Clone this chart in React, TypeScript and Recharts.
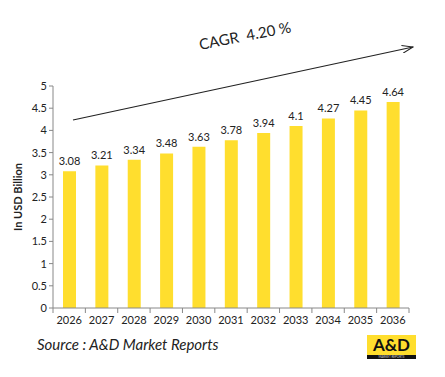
import { Bar, BarChart, Customized, LabelList, XAxis, YAxis } from "recharts";

const years = ["2026", "2027", "2028", "2029", "2030", "2031", "2032", "2033", "2034", "2035", "2036"];
const marketSize = [3.08, 3.21, 3.34, 3.48, 3.63, 3.78, 3.94, 4.1, 4.27, 4.45, 4.64];
const yTicks = [0, 0.5, 1, 1.5, 2, 2.5, 3, 3.5, 4, 4.5, 5];

const FONT = "Lato, 'Open Sans', sans-serif";
const YELLOW = "#FFDE2E";
const BAND = 356 / years.length;

const data = years.map((year, i) => ({ year, value: marketSize[i] }));

function YearTick(props: any) {
  const { x, y, payload, index } = props;
  const left = x - BAND / 2;
  return (
    <g>
      <line x1={left} y1={y - 8} x2={left} y2={y - 3} stroke="#888" />
      {index === years.length - 1 && (
        <line x1={x + BAND / 2} y1={y - 8} x2={x + BAND / 2} y2={y - 3} stroke="#888" />
      )}
      <text x={x} y={y + 8} textAnchor="middle" fontSize={11} fill="#222" fontFamily={FONT}>
        {payload.value}
      </text>
    </g>
  );
}

// CAGR arrow drawn over the plot like the original slide
function CagrArrow() {
  return (
    <g>
      <defs>
        <marker id="arrowhead" markerWidth="12" markerHeight="8" refX="11" refY="4" orient="auto" markerUnits="userSpaceOnUse">
          <path d="M0,0 L11,4 L0,8" fill="none" stroke="#222" strokeWidth={1} />
        </marker>
      </defs>
      <line x1={73} y1={120} x2={413} y2={47} stroke="#222" strokeWidth={1.2} markerEnd="url(#arrowhead)" />
      <text
        x={246}
        y={41}
        textAnchor="middle"
        fontSize={15}
        fill="#222"
        fontFamily={FONT}
        transform="rotate(-11 246 41)"
      >
        {"CAGR\u00a0\u00a04.20 %"}
      </text>
    </g>
  );
}

export default function App() {
  return (
    <div style={{ position: "absolute", left: 0, top: 0, width: 445, height: 377, background: "white" }}>
      <BarChart
        width={445}
        height={377}
        data={data}
        margin={{ top: 86, right: 36, bottom: 39, left: 0 }}
        barCategoryGap="30%"
      >
        <YAxis
          width={53}
          domain={[0, 5]}
          ticks={yTicks}
          interval={0}
          tickSize={4}
          stroke="#888"
          tick={{ fontSize: 11, fill: "#222", fontFamily: FONT }}
          label={{
            value: "In USD Billion",
            angle: -90,
            position: "insideLeft",
            offset: 18,
            style: { fontSize: 11, fontWeight: 700, fill: "#222", fontFamily: FONT, textAnchor: "middle" },
          }}
        />
        <XAxis dataKey="year" height={30} stroke="#888" tickLine={false} tick={<YearTick />} interval={0} />
        <Bar dataKey="value" fill={YELLOW} barSize={13} isAnimationActive={false}>
          <LabelList
            dataKey="value"
            position="top"
            offset={6}
            style={{ fontSize: 11, fill: "#222", fontFamily: FONT }}
          />
        </Bar>
        <Customized component={CagrArrow} />
      </BarChart>
      <div
        style={{
          position: "absolute",
          left: 37,
          top: 335,
          fontFamily: FONT,
          fontStyle: "italic",
          fontSize: 15,
          color: "#222",
        }}
      >
        Source : A&amp;D Market Reports
      </div>
      <div
        style={{
          position: "absolute",
          left: 367,
          top: 335,
          width: 49,
          height: 24,
          background: YELLOW,
          fontFamily: FONT,
        }}
      >
        <div style={{ fontSize: 17, fontWeight: 700, lineHeight: "19px", textAlign: "center", color: "#111" }}>
          A&amp;D
        </div>
        <div
          style={{
            position: "absolute",
            left: 0,
            bottom: 0,
            width: 49,
            height: 4,
            background: "#111",
            color: "#ddd",
            fontSize: 3,
            lineHeight: "4px",
            textAlign: "center",
          }}
        >
          MARKET REPORTS
        </div>
      </div>
    </div>
  );
}
